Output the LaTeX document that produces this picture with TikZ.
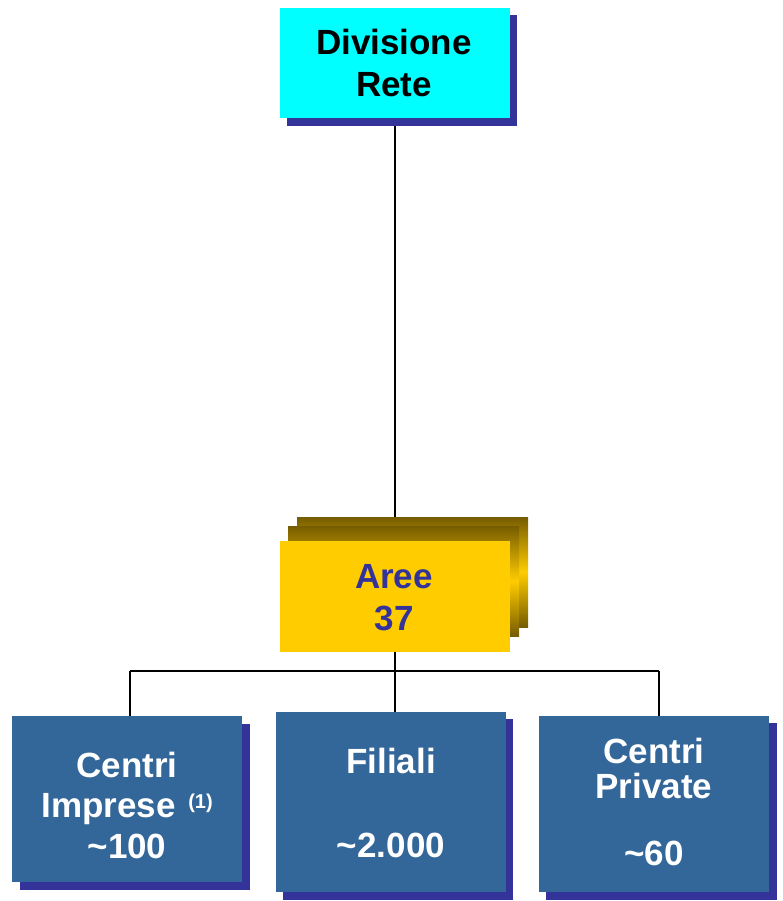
\documentclass[tikz,border=0pt]{standalone}
\usepackage{fontspec}
\setmainfont{Liberation Sans}
\definecolor{shadowblue}{RGB}{51,51,153}
\definecolor{unitblue}{RGB}{51,102,153}
\definecolor{headcyan}{RGB}{0,255,255}
\definecolor{areagold}{RGB}{255,204,0}
\definecolor{areadark}{RGB}{118,92,0}
\definecolor{areatext}{RGB}{51,51,153}
\begin{document}
\begin{tikzpicture}[x=1pt,y=-1pt,
  panel/.style={draw=none, inner sep=0pt, outer sep=0pt, anchor=north west},
  lbl/.style={font=\fontsize{35}{40}\selectfont\bfseries, anchor=base, inner sep=0pt},
  wire/.style={line width=1.4pt, black},
  stack/.style={top color=areadark, bottom color=areadark, middle color=areagold}]
\useasboundingbox (0,0) rectangle (782,901);

% connectors (drawn first, boxes cover their ends)
\coordinate (hub) at (395,671);
\coordinate (hubL) at (130,671);
\coordinate (hubR) at (659,671);
\coordinate (topline) at (395,118);
\coordinate (stacktop) at (395,517);
\draw[wire] (topline) -- (stacktop);

% Divisione Rete
\fill[shadowblue] (287,15) rectangle (517,126);
\node[panel, fill=headcyan, minimum width=230pt, minimum height=110pt] (div) at (280,8) {};
\node[lbl, black] (divA) at (394,55) {Divisione};
\node[lbl, black] (divB) at (394,97) {Rete};

% Aree: stacked cards
\shade[stack] (297,517) rectangle (528,627);
\shade[stack] (288,526) rectangle (519,636);
\node[panel, fill=areagold, minimum width=230pt, minimum height=111pt] (aree) at (280,541) {};
\node[lbl, areatext] (areeA) at (394,588) {Aree};
\node[lbl, areatext] (areeB) at (394,630) {37};

% bottom units
\fill[shadowblue] (20,724) rectangle (250,890);
\node[panel, fill=unitblue, minimum width=230pt, minimum height=166pt] (ci) at (12,716) {};
\fill[shadowblue] (283,719) rectangle (513,900);
\node[panel, fill=unitblue, minimum width=230pt, minimum height=180pt] (fil) at (276,712) {};
\fill[shadowblue] (546,723) rectangle (777,900);
\node[panel, fill=unitblue, minimum width=230pt, minimum height=176pt] (cp) at (539,716) {};

% tree connectors
\draw[wire] (aree.south -| hub) -- (hub);
\draw[wire] (hubL) -- (hubR);
\draw[wire] (hubL) -- (ci.north -| hubL);
\draw[wire] (hub) -- (fil.north -| hub);
\draw[wire] (hubR) -- (cp.north -| hubR);

% unit labels
\node[lbl, white] (ciA) at (127,777) {Centri};
\node[lbl, white] (ciB) at (127,817) {Imprese\hspace{3pt} {\fontsize{20}{24}\selectfont\raisebox{9pt}{(1)}}};
\node[lbl, white] (ciC) at (127,858) {\textasciitilde100};
\node[lbl, white] (filA) at (391,773) {Filiali};
\node[lbl, white] (filB) at (391,857) {\textasciitilde2.000};
\node[lbl, white] (cpA) at (654,763) {Centri};
\node[lbl, white] (cpB) at (654,798) {Private};
\node[lbl, white] (cpC) at (654,865) {\textasciitilde60};
\end{tikzpicture}
\end{document}
